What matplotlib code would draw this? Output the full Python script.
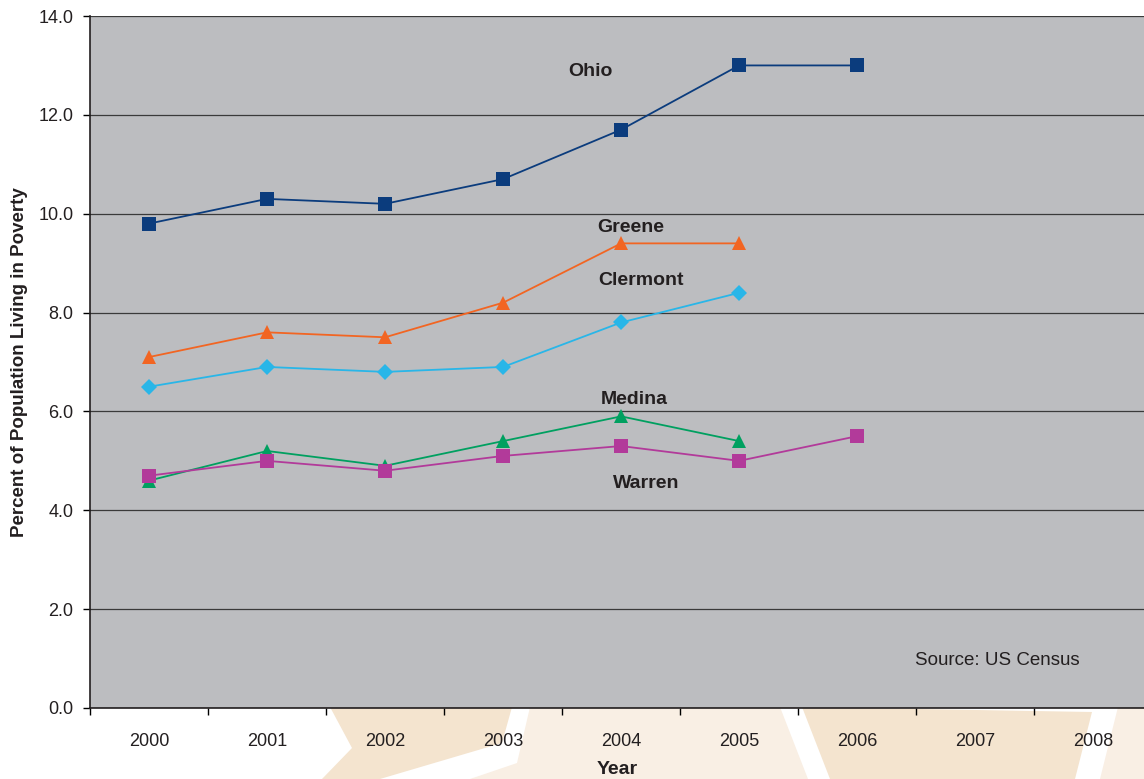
import numpy as np
import matplotlib
matplotlib.use("Agg")
import matplotlib.pyplot as plt
from matplotlib.patches import Polygon

years = ["2000", "2001", "2002", "2003", "2004", "2005", "2006", "2007", "2008"]
ohio = [9.8, 10.3, 10.2, 10.7, 11.7, 13.0, 13.0]
greene = [7.1, 7.6, 7.5, 8.2, 9.4, 9.4]
clermont = [6.5, 6.9, 6.8, 6.9, 7.8, 8.4]
medina = [4.6, 5.2, 4.9, 5.4, 5.9, 5.4]
warren = [4.7, 5.0, 4.8, 5.1, 5.3, 5.0, 5.5]

plt.rcParams["font.family"] = ["Liberation Sans", "DejaVu Sans"]

fig = plt.figure(figsize=(11.44, 7.79), dpi=100)
fig.patch.set_facecolor("white")

# decorative beige star pieces behind the axis area (figure coords)
W, H = 1144.0, 779.0
def px(pts):
    return [(x / W, 1 - y / H) for x, y in pts]

shapes = [
    (px([(330, 707), (512, 707), (502, 743), (380, 779), (322, 779), (352, 748)]), "#f4e4cf"),
    (px([(530, 707), (780, 707), (808, 779), (470, 779), (517, 763)]), "#f9efe4"),
    (px([(802, 707), (1092, 712), (1075, 779), (830, 779)]), "#f4e4cf"),
    (px([(1118, 707), (1144, 707), (1144, 779), (1100, 779)]), "#f9efe4"),
]
for pts, col in shapes:
    fig.patches.append(Polygon(pts, closed=True, transform=fig.transFigure,
                               facecolor=col, edgecolor="none", zorder=0))

ax = fig.add_axes([90 / W, 1 - 708 / H, 1 - 90 / W, (708 - 16) / H])
ax.set_zorder(2)
ax.set_facecolor("#bcbdc0")

series = [
    (ohio, "#0b3c7d", "s", 10),
    (greene, "#f26522", "^", 10),
    (clermont, "#29b6e8", "D", 8.5),
    (medina, "#00a060", "^", 10),
    (warren, "#b23a9a", "s", 10),
]
for vals, col, mk, ms in series:
    x = np.arange(len(vals))
    ax.plot(x, vals, color=col, lw=1.3, marker=mk, markersize=ms,
            markeredgewidth=0, zorder=3)

labels = [
    ("Ohio", 3.74, 12.87),
    ("Greene", 4.08, 9.72),
    ("Clermont", 4.17, 8.64),
    ("Medina", 4.11, 6.25),
    ("Warren", 4.21, 4.55),
]
for txt, lx, ly in labels:
    ax.text(lx, ly, txt, fontsize=14, fontweight="bold", color="#231f20",
            ha="center", va="center", zorder=4)

ax.text(7.19, 0.97, "Source: US Census", fontsize=13.5, color="#231f20",
        ha="center", va="center")

ax.set_xlim(-0.5, 8.43)
ax.set_ylim(0, 14)
ax.set_yticks(np.arange(0, 14.1, 2))
ax.set_yticklabels([f"{v:.1f}" for v in np.arange(0, 14.1, 2)])
ax.set_xticks(np.arange(len(years)))
ax.set_xticklabels(years)
ax.set_xticks(np.arange(len(years)) - 0.5, minor=True)
ax.tick_params(axis="x", which="major", length=0, pad=18, labelsize=13,
               labelcolor="#231f20")
ax.tick_params(axis="x", which="minor", length=5, width=1, direction="out")
ax.tick_params(axis="y", length=5, width=1, direction="out", pad=7,
               labelsize=13, labelcolor="#231f20")
ax.grid(True, axis="y", color="#3a3a3a", lw=0.9)
ax.set_axisbelow(True)
for side in ["top", "right"]:
    ax.spines[side].set_visible(False)
for side in ["left", "bottom"]:
    ax.spines[side].set_color("#231f20")
    ax.spines[side].set_linewidth(1.2)

ax.set_ylabel("Percent of Population Living in Poverty", fontsize=13.5,
              fontweight="bold", color="#231f20", labelpad=7)
ax.set_xlabel("Year", fontsize=14, fontweight="bold", color="#231f20",
              labelpad=8)

fig.savefig("out.png", dpi=100, facecolor="white")
